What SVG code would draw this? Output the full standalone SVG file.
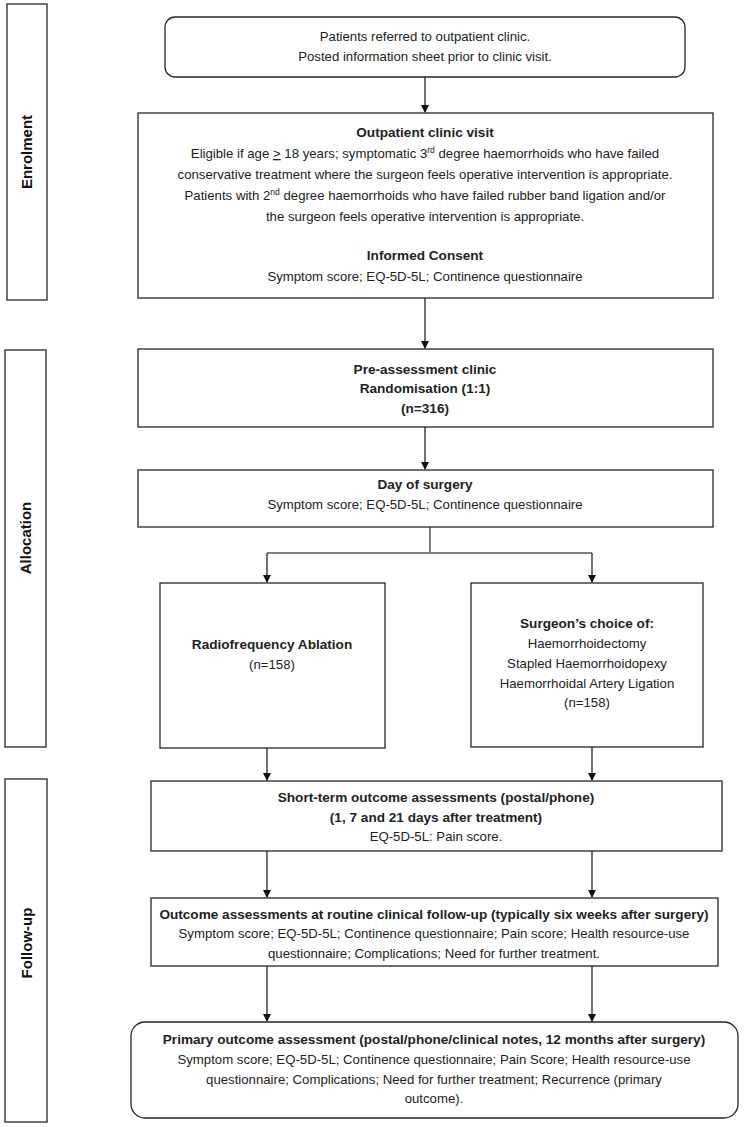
<svg xmlns="http://www.w3.org/2000/svg" width="749" height="1127" viewBox="0 0 749 1127">
<style>
.box{fill:#fff;stroke:#262626;stroke-width:1.3}
.side{fill:#fff;stroke:#262626;stroke-width:1.3}
text{font-family:"Liberation Sans",Arial,sans-serif;font-size:13.2px;fill:#222;text-anchor:middle}
.b{font-weight:bold;font-size:13.6px}
.lab{font-family:"Liberation Sans",Arial,sans-serif;font-size:15px;font-weight:bold;fill:#111}
.con{stroke:#111;stroke-width:1.2;fill:none}
.gray{stroke:#7f7f7f;stroke-width:2;fill:none}
.sup{font-size:8.5px}
</style>
<defs>
<marker id="ah" markerWidth="8" markerHeight="8" refX="7" refY="4" orient="auto" markerUnits="userSpaceOnUse">
<path d="M0,0 L8,4 L0,8 Z" fill="#111"/>
</marker>
</defs>
<g id="phase-enrolment"><rect class="side" x="7" y="4" width="40" height="296"/><text class="lab" transform="translate(32,152) rotate(-90)">Enrolment</text></g>
<g id="phase-allocation"><rect class="side" x="5" y="350" width="41" height="397"/><text class="lab" transform="translate(31,538) rotate(-90)">Allocation</text></g>
<g id="phase-followup"><rect class="side" x="5" y="779" width="42" height="343"/><text class="lab" transform="translate(32,943) rotate(-90)">Follow-up</text></g>
<g id="connectors">
<line class="con" x1="425" y1="77" x2="425" y2="112" marker-end="url(#ah)"/>
<line class="con" x1="425" y1="298" x2="425" y2="348" marker-end="url(#ah)"/>
<line class="con" x1="425" y1="427" x2="425" y2="469" marker-end="url(#ah)"/>
<polyline class="gray" points="430,527 430,553 267,553"/>
<line class="gray" x1="430" y1="553" x2="592" y2="553"/>
<line class="con" x1="267" y1="553" x2="267" y2="582" marker-end="url(#ah)"/>
<line class="con" x1="592" y1="553" x2="592" y2="582" marker-end="url(#ah)"/>
<line class="con" x1="267" y1="748" x2="267" y2="780" marker-end="url(#ah)"/>
<line class="con" x1="592" y1="747" x2="592" y2="780" marker-end="url(#ah)"/>
<line class="con" x1="267" y1="851" x2="267" y2="897" marker-end="url(#ah)"/>
<line class="con" x1="592" y1="851" x2="592" y2="897" marker-end="url(#ah)"/>
<line class="con" x1="267" y1="966" x2="267" y2="1021" marker-end="url(#ah)"/>
<line class="con" x1="592" y1="966" x2="592" y2="1021" marker-end="url(#ah)"/>
</g>
<g id="n-referred"><rect class="box" x="165" y="17" width="520" height="60" rx="10"/>
<text x="425" y="41">Patients referred to outpatient clinic.</text>
<text x="425" y="61">Posted information sheet prior to clinic visit.</text></g>
<g id="n-outpatient"><rect class="box" x="138" y="113" width="575" height="185"/>
<text class="b" x="425" y="137">Outpatient clinic visit</text>
<text x="425" y="158">Eligible if age <tspan text-decoration="underline">&gt;</tspan> 18 years; symptomatic 3<tspan class="sup" dy="-5">rd</tspan><tspan dy="5"> degree haemorrhoids who have failed</tspan></text>
<text x="425" y="179">conservative treatment where the surgeon feels operative intervention is appropriate.</text>
<text x="425" y="200">Patients with 2<tspan class="sup" dy="-5">nd</tspan><tspan dy="5"> degree haemorrhoids who have failed rubber band ligation and/or</tspan></text>
<text x="425" y="221">the surgeon feels operative intervention is appropriate.</text>
<text class="b" x="425" y="260">Informed Consent</text>
<text x="425" y="281">Symptom score; EQ-5D-5L; Continence questionnaire</text></g>
<g id="n-preassessment"><rect class="box" x="138" y="349" width="575" height="78"/>
<text class="b" x="425" y="374">Pre-assessment clinic</text>
<text class="b" x="425" y="393">Randomisation (1:1)</text>
<text class="b" x="425" y="413">(n=316)</text></g>
<g id="n-dayofsurgery"><rect class="box" x="138" y="470" width="575" height="57"/>
<text class="b" x="425" y="489">Day of surgery</text>
<text x="425" y="509">Symptom score; EQ-5D-5L; Continence questionnaire</text></g>
<g id="n-rfa"><rect class="box" x="160" y="583" width="225" height="165"/>
<text class="b" x="272" y="649">Radiofrequency Ablation</text>
<text x="272" y="669">(n=158)</text></g>
<g id="n-surgeon"><rect class="box" x="471" y="583" width="232" height="164"/>
<text class="b" x="587" y="628">Surgeon’s choice of:</text>
<text x="587" y="648">Haemorrhoidectomy</text>
<text x="587" y="668">Stapled Haemorrhoidopexy</text>
<text x="587" y="688">Haemorrhoidal Artery Ligation</text>
<text x="587" y="707">(n=158)</text></g>
<g id="n-shortterm"><rect class="box" x="151" y="781" width="571" height="70"/>
<text class="b" x="436" y="802">Short-term outcome assessments (postal/phone)</text>
<text class="b" x="436" y="822">(1, 7 and 21 days after treatment)</text>
<text x="436" y="841">EQ-5D-5L: Pain score.</text></g>
<g id="n-routine"><rect class="box" x="151" y="898" width="567" height="68"/>
<text class="b" x="434" y="919">Outcome assessments at routine clinical follow-up (typically six weeks after surgery)</text>
<text x="434" y="938">Symptom score; EQ-5D-5L; Continence questionnaire; Pain score; Health resource-use</text>
<text x="434" y="958">questionnaire; Complications; Need for further treatment.</text></g>
<g id="n-primary"><rect class="box" x="131" y="1022" width="607" height="96" rx="14"/>
<text class="b" x="434" y="1044">Primary outcome assessment (postal/phone/clinical notes, 12 months after surgery)</text>
<text x="434" y="1064">Symptom score; EQ-5D-5L; Continence questionnaire; Pain Score; Health resource-use</text>
<text x="434" y="1084">questionnaire; Complications; Need for further treatment; Recurrence (primary</text>
<text x="434" y="1103">outcome).</text></g>
</svg>
